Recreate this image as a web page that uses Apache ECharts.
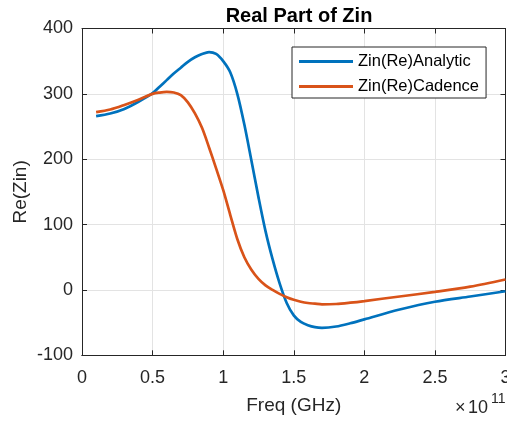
<!DOCTYPE html>
<html>
<head>
<meta charset="utf-8">
<script src="https://cdn.jsdelivr.net/npm/echarts@6/dist/echarts.min.js"></script>
<style>
html,body{margin:0;padding:0;background:#fff;}
#c{width:507px;height:423px;}
</style>
</head>
<body>
<div id="c"></div>
<script>
// Frequency in units of 1e11 Hz (axis shows ×10^11)
const freqE11 = [0.1,0.2,0.3,0.4,0.5,0.55,0.6,0.65,0.7,0.75,0.8,0.85,0.9,0.95,1.0,1.05,1.1,1.15,1.2,1.25,1.3,1.35,1.4,1.45,1.5,1.55,1.6,1.65,1.7,1.8,1.9,2.0,2.25,2.5,2.75,3.0];
const zinAnalytic = [266,270,277,288,301,311,321,331,340,349,356,361,364,361,350,333,300,253,198,142,90,47,10,-20,-39,-49,-54,-57,-58,-56,-51,-45,-30,-18,-10,-2];
const zinCadence = [272,276,283,291,300,302,303,302,298,287,270,248,218,186,153,115,78,50,31,17,7,0,-6,-11,-15,-18,-20,-21,-22,-21.5,-19.5,-17,-10,-3,5,16];
const seriesNames = ['Zin(Re)Analytic','Zin(Re)Cadence'];
const xTicks = [0,0.5,1,1.5,2,2.5,3];
const yTicks = [-100,0,100,200,300,400];

const FONT = 'Liberation Sans, Arial, Helvetica, sans-serif';
const AX = '#262626';
const GRIDC = '#e3e3e3';
const chart = echarts.init(document.getElementById('c'), null, {renderer:'canvas'});

function pairs(xs, ys){ return xs.map((x,i)=>[x, ys[i]]); }
function xBase(){ return {type:'value', min:xTicks[0], max:xTicks[xTicks.length-1], interval:0.5}; }
function yBase(){ return {type:'value', min:yTicks[0], max:yTicks[yTicks.length-1], interval:100}; }
function line(){ return {show:true, onZero:false, lineStyle:{color:AX, width:1}}; }
function tick(){ return {show:true, inside:true, length:5, lineStyle:{color:AX, width:1}}; }
// axis that only draws ticks (drawn above the grid lines)
function tickOnlyX(pos){ return Object.assign(xBase(), {position:pos, z:1, axisLine:line(), axisTick:tick(), axisLabel:{show:false}, splitLine:{show:false}}); }
function tickOnlyY(pos){ return Object.assign(yBase(), {position:pos, z:1, axisLine:line(), axisTick:tick(), axisLabel:{show:false}, splitLine:{show:false}}); }

chart.setOption({
  backgroundColor:'#ffffff',
  animation:false,
  title:{
    text:'Real Part of Zin', left:294, top:1, textAlign:'center',
    textStyle:{fontFamily:FONT, fontSize:20, fontWeight:'bold', color:'#000'}
  },
  grid:{left:82, right:1.5, top:28.5, bottom:67.7, containLabel:false, outerBoundsMode:'none'},
  legend:{
    data:seriesNames, orient:'vertical', left:292, top:47,
    padding:[6,7,3,7], itemGap:8, itemWidth:54, itemHeight:14,
    backgroundColor:'#ffffff', borderColor:AX, borderWidth:1,
    textStyle:{fontFamily:FONT, fontSize:16.5, color:'#000'},
    icon:'path://M0,6 L54,6 L54,9 L0,9 Z'
  },
  xAxis:[
    Object.assign(xBase(), {
      position:'bottom', z:0,
      name:'Freq (GHz)', nameLocation:'middle', nameGap:41, nameMoveOverlap:false,
      nameTextStyle:{fontFamily:FONT, fontSize:19, color:AX},
      axisLine:line(), axisTick:{show:false},
      axisLabel:{show:true, margin:14, fontFamily:FONT, fontSize:18, color:AX,
        formatter:v=>String(v)},
      splitLine:{show:true, lineStyle:{color:GRIDC, width:1}}
    }),
    tickOnlyX('top'),
    tickOnlyX('bottom')
  ],
  yAxis:[
    Object.assign(yBase(), {
      position:'left', z:0,
      name:'Re(Zin)', nameLocation:'middle', nameGap:52, nameRotate:90, nameMoveOverlap:false,
      nameTextStyle:{fontFamily:FONT, fontSize:19, color:AX},
      axisLine:line(), axisTick:{show:false},
      axisLabel:{show:true, margin:9, fontFamily:FONT, fontSize:18, color:AX},
      splitLine:{show:true, lineStyle:{color:GRIDC, width:1}}
    }),
    tickOnlyY('right'),
    tickOnlyY('left')
  ],
  graphic:[
    {type:'text', left:455, top:399, style:{text:'×', font:'18px '+FONT, fill:AX}},
    {type:'text', left:468, top:399, style:{text:'10', font:'18px '+FONT, fill:AX}},
    {type:'text', left:491, top:392, style:{text:'11', font:'14px '+FONT, fill:AX}}
  ],
  series:[
    {name:seriesNames[0], type:'line', xAxisIndex:0, yAxisIndex:0, data:pairs(freqE11, zinAnalytic), symbol:'none',
     smooth:0.3, lineStyle:{color:'#0072BD', width:2.7}, itemStyle:{color:'#0072BD'}, z:3},
    {name:seriesNames[1], type:'line', xAxisIndex:0, yAxisIndex:0, data:pairs(freqE11, zinCadence), symbol:'none',
     smooth:0.3, lineStyle:{color:'#D95319', width:2.7}, itemStyle:{color:'#D95319'}, z:4}
  ]
});
</script>
</body>
</html>
